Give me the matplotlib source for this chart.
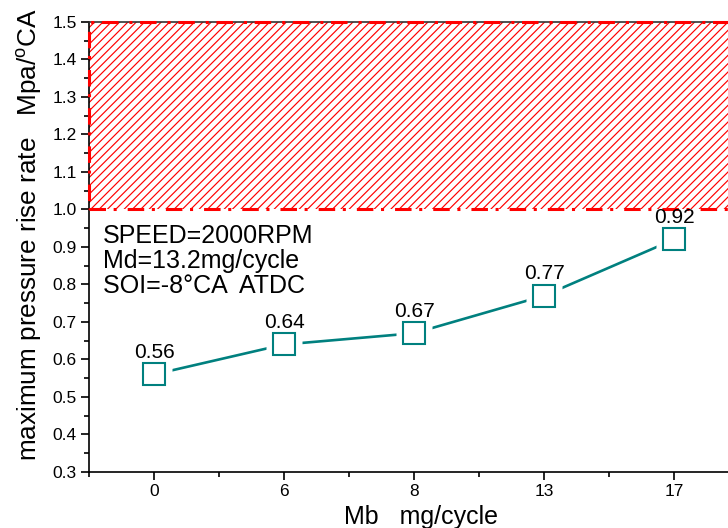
import matplotlib
matplotlib.use('Agg')
import matplotlib.pyplot as plt
from matplotlib.patches import Rectangle
from matplotlib.ticker import MultipleLocator

plt.rcParams['font.family'] = ['Liberation Sans', 'DejaVu Sans']
plt.rcParams['mathtext.fontset'] = 'custom'
plt.rcParams['mathtext.rm'] = 'Liberation Sans'
plt.rcParams['hatch.linewidth'] = 0.85

mb_labels = ['0', '6', '8', '13', '17']
rise_rate = [0.56, 0.64, 0.67, 0.77, 0.92]
limit_low, limit_high = 1.0, 1.5
notes = ['SPEED=2000RPM', 'Md=13.2mg/cycle', 'SOI=-8\u00b0CA  ATDC']

teal = '#00807f'
red = '#ff0000'

fig = plt.figure(figsize=(7.28, 5.28), dpi=100)
ax = fig.add_axes([0.1223, 0.1061, 0.8929, 0.8523])

pos = list(range(len(mb_labels)))

# hatched "too high" zone
ax.axhspan(limit_low, limit_high, facecolor='none', edgecolor=red,
           hatch='////', linewidth=0, zorder=1)
ax.add_patch(Rectangle((-0.5, limit_low), len(mb_labels), limit_high - limit_low,
                       fill=False, edgecolor=red, linewidth=2.2,
                       linestyle=(0, (5.4, 2.5, 1, 3.6)), clip_on=False, zorder=5))

# line with gaps around the markers (origin style)
ax.plot(pos, rise_rate, color=teal, linewidth=1.9, zorder=2)
ax.plot(pos, rise_rate, linestyle='none', marker='s', markersize=26,
        markerfacecolor='white', markeredgecolor='none', zorder=3)
ax.plot(pos, rise_rate, linestyle='none', marker='s', markersize=16,
        markerfacecolor='white', markeredgecolor=teal, markeredgewidth=1.5, zorder=4)

for x, v in zip(pos, rise_rate):
    ax.annotate(f'{v:.2f}', (x, v), xytext=(0, 12), textcoords='offset points',
                ha='center', va='baseline', fontsize=15, zorder=6)

for i, t in enumerate(notes):
    ax.text(0.0215, 0.509 - i * 0.0555, t, transform=ax.transAxes,
            fontsize=18, va='baseline', ha='left', zorder=6)

ax.set_xlim(-0.5, len(mb_labels) - 0.5)
ax.set_ylim(0.3, 1.5)
ax.set_xticks(pos)
ax.set_xticklabels(mb_labels)
ax.xaxis.set_minor_locator(MultipleLocator(0.5))
ax.yaxis.set_major_locator(MultipleLocator(0.1))
ax.yaxis.set_minor_locator(MultipleLocator(0.05))
ax.yaxis.set_major_formatter(plt.FormatStrFormatter('%.1f'))

ax.tick_params(which='major', direction='out', length=6, width=1.2, labelsize=12.5, pad=3)
ax.tick_params(which='minor', direction='out', length=3.5, width=1.2)
for s in ['left', 'bottom', 'top', 'right']:
    ax.spines[s].set_linewidth(1.2)
ax.spines['top'].set_color('#333333')

ax.set_xlabel('Mb   mg/cycle', fontsize=18)
ax.set_ylabel('maximum pressure rise rate   Mpa/$^{\\mathrm{o}}$CA', fontsize=18.8)
ax.xaxis.set_label_coords(0.511, -0.074)
ax.yaxis.set_label_coords(-0.07, 0.527)

fig.savefig('out.png', dpi=100)
